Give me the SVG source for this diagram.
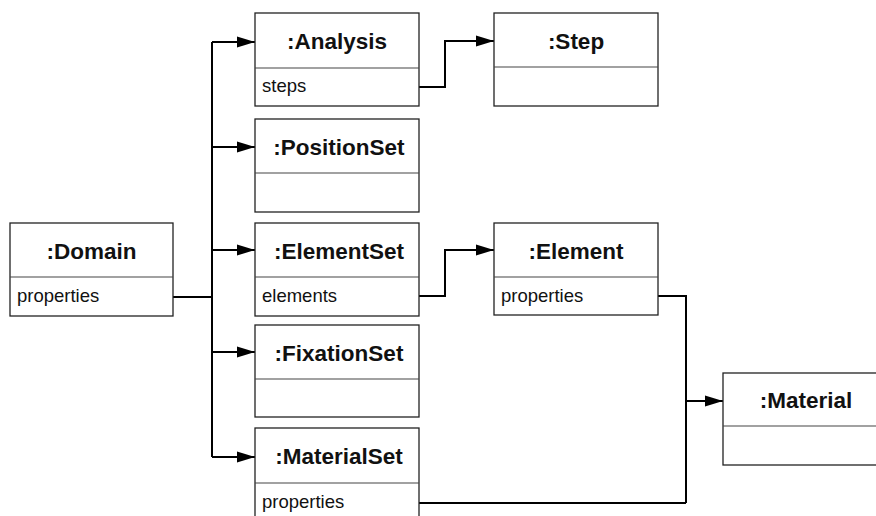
<svg xmlns="http://www.w3.org/2000/svg" width="876" height="516" viewBox="0 0 876 516">
  <defs>
    <marker id="arrow" markerWidth="18" markerHeight="12" refX="18" refY="6" orient="auto" markerUnits="userSpaceOnUse">
      <path d="M0,0.5 L18,6 L0,11.5 Z" fill="#000"/>
    </marker>
    <style>
      .box { fill: #fff; stroke: #222; stroke-width: 1.3; }
      .div { stroke: #444; stroke-width: 1.2; fill: none; }
      .title { font-family: "Liberation Sans", Arial, sans-serif; font-weight: bold; font-size: 22.5px; fill: #111; text-anchor: middle; }
      .attr { font-family: "Liberation Sans", Arial, sans-serif; font-size: 18.5px; fill: #111; }
      .conn { fill: none; stroke: #000; stroke-width: 2; }
      .arr { marker-end: url(#arrow); }
    </style>
  </defs>
  <rect width="876" height="516" fill="#fff"/>

  <!-- connectors -->
  <g id="connectors">
    <path class="conn" d="M173,297 H212"/>
    <path class="conn" d="M212,42 V457"/>
    <path class="conn arr" d="M212,42 H255"/>
    <path class="conn arr" d="M212,147 H255"/>
    <path class="conn arr" d="M212,250 H255"/>
    <path class="conn arr" d="M212,352 H255"/>
    <path class="conn arr" d="M212,457 H255"/>
    <path class="conn arr" d="M419,87 H445 V41 H494"/>
    <path class="conn arr" d="M419,296 H445 V250 H494"/>
    <path class="conn" d="M658,296 H686 V503"/>
    <path class="conn" d="M419,503 H686"/>
    <path class="conn arr" d="M686,401 H723"/>
  </g>

  <!-- object nodes -->
  <g id="domain">
    <rect class="box" x="10" y="223" width="163" height="93"/>
    <line class="div" x1="10" y1="277" x2="173" y2="277"/>
    <text class="title" x="91.5" y="259">:Domain</text>
    <text class="attr" x="17" y="302">properties</text>
  </g>

  <g id="analysis">
    <rect class="box" x="255" y="13" width="164" height="93"/>
    <line class="div" x1="255" y1="68" x2="419" y2="68"/>
    <text class="title" x="337" y="49">:Analysis</text>
    <text class="attr" x="262" y="92">steps</text>
  </g>

  <g id="step">
    <rect class="box" x="494" y="13" width="164" height="93"/>
    <line class="div" x1="494" y1="67" x2="658" y2="67"/>
    <text class="title" x="576" y="49">:Step</text>
  </g>

  <g id="positionset">
    <rect class="box" x="255" y="119" width="164" height="93"/>
    <line class="div" x1="255" y1="173" x2="419" y2="173"/>
    <text class="title" x="339" y="155">:PositionSet</text>
  </g>

  <g id="elementset">
    <rect class="box" x="255" y="223" width="164" height="93"/>
    <line class="div" x1="255" y1="277" x2="419" y2="277"/>
    <text class="title" x="339" y="259">:ElementSet</text>
    <text class="attr" x="262" y="302">elements</text>
  </g>

  <g id="element">
    <rect class="box" x="494" y="223" width="164" height="92"/>
    <line class="div" x1="494" y1="277" x2="658" y2="277"/>
    <text class="title" x="576" y="259">:Element</text>
    <text class="attr" x="501" y="302">properties</text>
  </g>

  <g id="fixationset">
    <rect class="box" x="255" y="325" width="164" height="92"/>
    <line class="div" x1="255" y1="379" x2="419" y2="379"/>
    <text class="title" x="339" y="361">:FixationSet</text>
  </g>

  <g id="materialset">
    <rect class="box" x="255" y="428" width="164" height="93"/>
    <line class="div" x1="255" y1="483" x2="419" y2="483"/>
    <text class="title" x="339" y="464">:MaterialSet</text>
    <text class="attr" x="262" y="508">properties</text>
  </g>

  <g id="material">
    <rect class="box" x="723" y="373" width="164" height="92"/>
    <line class="div" x1="723" y1="426" x2="887" y2="426"/>
    <text class="title" x="806" y="408">:Material</text>
  </g>
</svg>
